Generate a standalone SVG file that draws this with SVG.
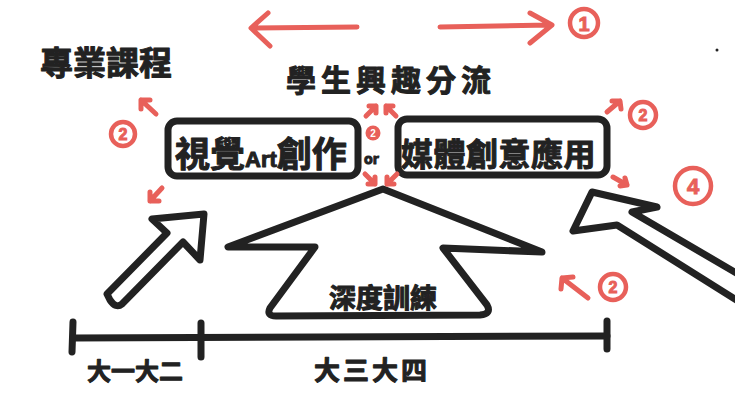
<svg xmlns="http://www.w3.org/2000/svg" width="735" height="414" viewBox="0 0 735 414">
<style>
.ink{fill:none;stroke:#222;stroke-width:7;stroke-linecap:round;stroke-linejoin:round}
.red{fill:none;stroke:#e8605a;stroke-width:5;stroke-linecap:round;stroke-linejoin:round}
.redc{fill:none;stroke:#e8605a;stroke-width:4.5}
.t{font-family:"Noto Sans CJK TC","Noto Sans CJK SC",sans-serif;font-weight:700;fill:#222;stroke:#222;stroke-width:1;stroke-linejoin:round}
.rt{font-family:"Liberation Sans",sans-serif;font-weight:700;fill:#e8605a;stroke:#e8605a;stroke-width:1;text-anchor:middle}
</style>
<rect width="735" height="414" fill="#fff"/>

<g id="title-left"><text class="t" x="40" y="75" font-size="33" letter-spacing="0">專業課程</text></g>
<g id="title-center"><text class="t" x="286" y="91" font-size="30" letter-spacing="5">學生興趣分流</text></g>

<g id="node-visual">
<rect class="ink" x="168" y="121" width="190" height="55" rx="9"/>
<text class="t" x="175" y="167" font-size="35">視覺<tspan font-family="Liberation Sans,sans-serif" font-size="22">Art</tspan>創作</text>
</g>
<g id="node-media">
<rect class="ink" x="398" y="119" width="209" height="56" rx="9"/>
<text class="t" x="401" y="166" font-size="32" letter-spacing="0.5">媒體創意應用</text>
</g>
<g id="or-label"><text class="t" x="364" y="164" font-size="14" font-family="Liberation Sans,sans-serif">or</text></g>

<g id="node-training">
<path class="ink" d="M383,189 L228,247 L315,247 L270,308 Q266,316 276,316 L480,315 Q492,314 487,305 L443,248 L542,252 Z"/>
<text class="t" x="329" y="308" font-size="27">深度訓練</text>
</g>

<g id="arrow-left">
<path class="ink" d="M167,233 L152,219 L204,214 L200,260 L183,242 L122,304 Q116,309 110,300 L107,294 Z"/>
</g>
<g id="arrow-right">
<path class="ink" d="M738,274 L632,212 L657,207 L592,192 L573,231 L617,225 L738,301"/>
</g>

<g id="timeline">
<path class="ink" d="M73,338 L607,336"/>
<path class="ink" d="M73,322 L72,352 M201,323 L201,357 M607,321 L607,349"/>
<text class="t" x="87" y="380" font-size="24" letter-spacing="0">大一大二</text>
<text class="t" x="314" y="380" font-size="26" letter-spacing="3">大三大四</text>
</g>

<g id="connectors">
<path class="red" stroke-width="6" d="M252,28 L357,27 M268,13 L251,28 L270,46"/>
<path class="red" stroke-width="6" d="M440,27 L550,25 M530,13 L552,25 L530,43"/>
<path class="red" d="M156,114 L141,100 M141,109 L141,100 L150,100"/>
<path class="red" d="M162,188 L150,201 M150,192 L150,201 L159,201"/>
<path class="red" d="M366,116 L376,106 M369,106 L376,106 L376,113"/>
<path class="red" d="M396,116 L386,106 M393,106 L386,106 L386,113"/>
<path class="red" d="M365,174 L375,184 M368,184 L375,184 L375,177"/>
<path class="red" d="M397,174 L387,184 M394,184 L387,184 L387,177"/>
<path class="red" d="M607,112 L620,101 M612,101 L620,101 L621,109"/>
<path class="red" d="M613,177 L627,185 M620,186 L627,185 L625,178"/>
<path class="red" d="M588,298 L562,278 M561,289 L562,278 L573,277"/>
</g>

<g id="badges">
<circle class="redc" cx="584" cy="23" r="14"/><text class="rt" x="584" y="31" font-size="20">1</text>
<circle class="redc" cx="123" cy="134" r="12"/><text class="rt" x="123" y="140" font-size="16">2</text>
<circle cx="373" cy="133" r="7.5" fill="#e8605a"/><text x="373" y="137" font-size="10" text-anchor="middle" font-family="Liberation Sans,sans-serif" font-weight="700" fill="#fff">2</text>
<circle class="redc" cx="643" cy="115" r="13"/><text class="rt" x="643" y="121" font-size="16">2</text>
<circle class="redc" cx="693" cy="186" r="18"/><text class="rt" x="693" y="194" font-size="22">4</text>
<circle class="redc" cx="613" cy="287" r="13"/><text class="rt" x="613" y="293" font-size="16">2</text>
</g>
<circle cx="717" cy="50" r="1.5" fill="#222"/>
</svg>
